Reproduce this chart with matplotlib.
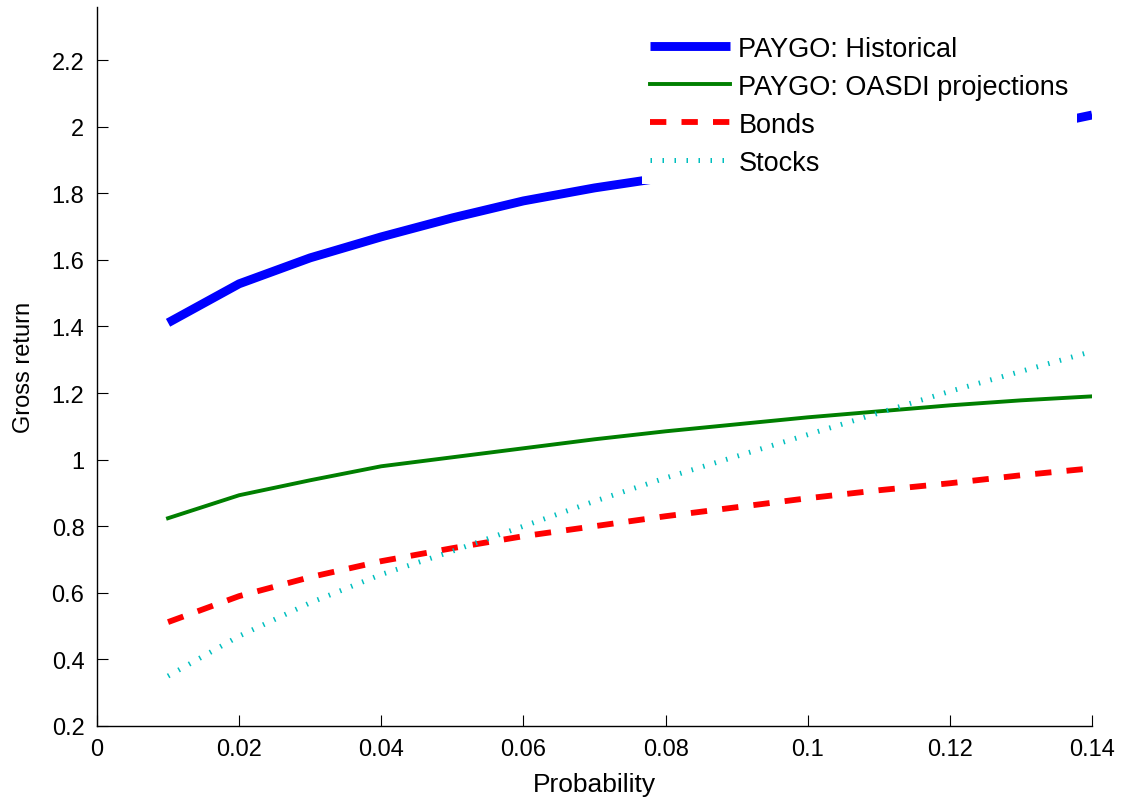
import numpy as np
import matplotlib.pyplot as plt

plt.rcParams['font.family'] = ['Liberation Sans', 'DejaVu Sans']

# probability grid and gross returns
prob = [0.01, 0.02, 0.03, 0.04, 0.05, 0.06, 0.07, 0.08, 0.09, 0.10, 0.11, 0.12, 0.13, 0.14]
paygo_hist = [1.411, 1.528, 1.606, 1.669, 1.726, 1.777, 1.816, 1.848, 1.878, 1.906, 1.934, 1.962, 1.99, 2.035]
paygo_oasdi = [0.824, 0.893, 0.938, 0.980, 1.007, 1.034, 1.061, 1.085, 1.106, 1.127, 1.145, 1.163, 1.178, 1.19]
bonds = [0.512, 0.59, 0.647, 0.695, 0.734, 0.770, 0.80, 0.83, 0.857, 0.884, 0.908, 0.929, 0.953, 0.974]
stocks = [0.35, 0.47, 0.57, 0.655, 0.725, 0.80, 0.875, 0.945, 1.01, 1.075, 1.14, 1.205, 1.265, 1.325]

xticks = [0, 0.02, 0.04, 0.06, 0.08, 0.1, 0.12, 0.14]
xtick_labels = ['0', '0.02', '0.04', '0.06', '0.08', '0.1', '0.12', '0.14']
yticks = [0.2, 0.4, 0.6, 0.8, 1, 1.2, 1.4, 1.6, 1.8, 2, 2.2]
ytick_labels = ['0.2', '0.4', '0.6', '0.8', '1', '1.2', '1.4', '1.6', '1.8', '2', '2.2']

fig = plt.figure(figsize=(11.3, 8.04), dpi=100)
ax = fig.add_axes([0.0858, 0.0958, 0.8806, 0.8945])

ax.plot(prob, paygo_hist, color='#0000ff', lw=6.4, solid_capstyle='butt',
        label='PAYGO: Historical')
ax.plot(prob, paygo_oasdi, color='#007f00', lw=2.8, label='PAYGO: OASDI projections')
ax.plot(prob, bonds, color='#ff0000', lw=4.2, dashes=(2.8, 2.6), label='Bonds')
ax.plot(prob, stocks, color='#00bfbf', lw=3.6, dashes=(0.3, 2.1), label='Stocks')

ax.set_xlim(0, 0.14)
ax.set_ylim(0.2, 2.36)
ax.set_xticks(xticks)
ax.set_xticklabels(xtick_labels)
ax.set_yticks(yticks)
ax.set_yticklabels(ytick_labels)
ax.tick_params(direction='in', length=8, width=0.8, labelsize=17, pad=9)

for s in ['top', 'right']:
    ax.spines[s].set_visible(False)
for s in ['left', 'bottom']:
    ax.spines[s].set_linewidth(1.0)

ax.set_xlabel('Probability', fontsize=19, labelpad=8)
ax.set_ylabel('Gross return', fontsize=17, labelpad=12)

leg = ax.legend(loc='upper left', bbox_to_anchor=(0.548, 0.971), frameon=True, fontsize=19.5,
                handlelength=2.95, handletextpad=0.3, labelspacing=0.44,
                borderpad=0.3, borderaxespad=0, fancybox=False)
leg.get_frame().set_facecolor('white')
leg.get_frame().set_edgecolor('none')
leg.get_frame().set_alpha(1.0)

fig.savefig('out.png', dpi=100)
